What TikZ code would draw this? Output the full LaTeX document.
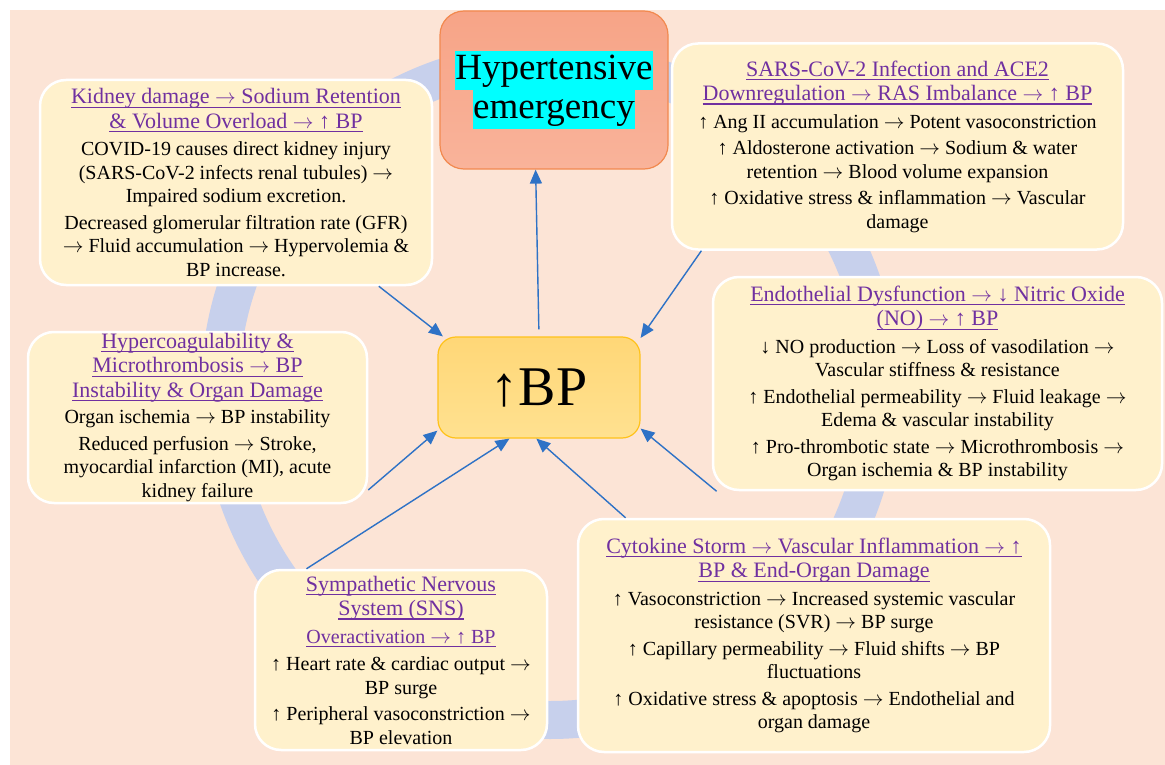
\documentclass[tikz,border=0pt]{standalone}
\usepackage{fontspec}
\setmainfont{Liberation Serif}
\usetikzlibrary{arrows.meta}

\definecolor{peach}{HTML}{FCE4D6}
\definecolor{ringblue}{HTML}{C7D0EC}
\definecolor{boxfill}{HTML}{FFF1CC}
\definecolor{hdpurple}{HTML}{7030A0}
\definecolor{arrowblue}{HTML}{2E72C6}
\definecolor{hlcyan}{HTML}{00FFFF}
\definecolor{emborder}{HTML}{F2894F}
\definecolor{emtop}{HTML}{F7A487}
\definecolor{embottom}{HTML}{F9B39A}
\definecolor{bpborder}{HTML}{FFC21A}
\definecolor{bptop}{HTML}{FFD777}
\definecolor{bpbottom}{HTML}{FFE190}

% long thin arrow as in the source font
\catcode`\→=\active
\protected\def→{\ensuremath{\rightarrow}}

% purple underlined heading line, cyan highlighted line
\newcommand{\hd}[2][22]{{\fontsize{#1}{23.5}\selectfont\color{hdpurple}%
  \setbox0\hbox{#2}\rlap{\rule[-4pt]{\wd0}{1.1pt}}\box0}}
\newcommand{\hl}[1]{{\setlength{\fboxsep}{0pt}\colorbox{hlcyan}{\raisebox{0pt}[29pt][10pt]{#1}}}}

\tikzset{
  causebox/.style={draw=white, line width=2.5pt, fill=boxfill, rounded corners=26pt,
    align=center, inner sep=0pt, font=\fontsize{20}{23.5}\selectfont},
  feed/.style={arrowblue, line width=1.4pt, -{Triangle[length=14pt,width=12pt]}},
}

\begin{document}
\begin{tikzpicture}[x=1pt,y=-1pt]
    \useasboundingbox (0,0) rectangle (1165,765);
    \fill[white] (0,0) rectangle (1165,765);
    \fill[peach] (10,10) rectangle (1165,765);

    % ring behind the boxes
    \draw[ringblue, line width=38pt] (550,390) circle (330pt);

    \node[draw=emborder, line width=1.2pt, top color=emtop, bottom color=embottom,
      rounded corners=24pt, minimum width=228pt, minimum height=158pt, inner sep=0pt,
      align=center, font=\fontsize{37}{39}\selectfont] (emerg) at (554,90)
      {\hl{Hypertensive}\\\hl{emergency}};

    \node[draw=bpborder, line width=1.2pt, top color=bptop, bottom color=bpbottom,
      rounded corners=18pt, minimum width=202pt, minimum height=101pt, inner sep=0pt,
      font=\fontsize{56}{60}\selectfont] (bp) at (539,387.5) {↑BP};

    \node[causebox, minimum width=392pt, minimum height=205pt] (kidney) at (236,182.5)
      {\hd{Kidney damage → Sodium Retention}\\[1pt]
       \hd{\& Volume Overload → ↑ BP}\\[4pt]
       COVID-19 causes direct kidney injury\\
       (SARS-CoV-2 infects renal tubules) →\\
       Impaired sodium excretion.\\[3pt]
       Decreased glomerular filtration rate (GFR)\\
       → Fluid accumulation → Hypervolemia \&\\
       BP increase.};

    \node[causebox, minimum width=451pt, minimum height=206pt] (sars) at (897.5,146.5)
      {\hd{SARS-CoV-2 Infection and ACE2}\\[1pt]
       \hd{Downregulation → RAS Imbalance → ↑ BP}\\[4pt]
       ↑ Ang II accumulation → Potent vasoconstriction\\[3pt]
       ↑ Aldosterone activation → Sodium \& water\\
       retention → Blood volume expansion\\[3pt]
       ↑ Oxidative stress \& inflammation → Vascular\\
       damage};

    \node[causebox, minimum width=449pt, minimum height=213pt] (endo) at (937.5,383.5)
      {\hd{Endothelial Dysfunction → ↓ Nitric Oxide}\\[1pt]
       \hd{(NO) → ↑ BP}\\[4pt]
       ↓ NO production → Loss of vasodilation →\\
       Vascular stiffness \& resistance\\[3pt]
       ↑ Endothelial permeability → Fluid leakage →\\
       Edema \& vascular instability\\[3pt]
       ↑ Pro-thrombotic state → Microthrombosis →\\
       Organ ischemia \& BP instability};

    \node[causebox, minimum width=339pt, minimum height=171pt] (hyper) at (197.5,417.5)
      {\hd{Hypercoagulability \&}\\[1pt]
       \hd{Microthrombosis → BP}\\[1pt]
       \hd{Instability \& Organ Damage}\\[3pt]
       Organ ischemia → BP instability\\[3pt]
       Reduced perfusion → Stroke,\\
       myocardial infarction (MI), acute\\
       kidney failure};

    \node[causebox, minimum width=292pt, minimum height=180pt] (sns) at (401,660)
      {\hd{Sympathetic Nervous}\\[1pt]
       \hd{System (SNS)}\\[4pt]
       \hd[20]{Overactivation → ↑ BP}\\[4pt]
       ↑ Heart rate \& cardiac output →\\
       BP surge\\[3pt]
       ↑ Peripheral vasoconstriction →\\
       BP elevation};

    \node[causebox, minimum width=472pt, minimum height=233pt] (cyto) at (814,635.5)
      {\hd{Cytokine Storm → Vascular Inflammation → ↑}\\[1pt]
       \hd{BP \& End-Organ Damage}\\[4pt]
       ↑ Vasoconstriction → Increased systemic vascular\\
       resistance (SVR) → BP surge\\[3pt]
       ↑ Capillary permeability → Fluid shifts → BP\\
       fluctuations\\[3pt]
       ↑ Oxidative stress \& apoptosis → Endothelial and\\
       organ damage};

    \draw[feed] (kidney.-36) -- (bp.152);
    \draw[feed, shorten <=7pt] (bp.north) -- (emerg.-103);
    \draw[feed] (sars.208) -- (bp.26);
    \draw[feed] (hyper.-23) -- (bp.203);
    \draw[feed] (sns.136) -- (bp.240);
    \draw[feed] (cyto.148) -- (bp.267);
    \draw[feed] (endo.206) -- (bp.-22);
\end{tikzpicture}
\end{document}
